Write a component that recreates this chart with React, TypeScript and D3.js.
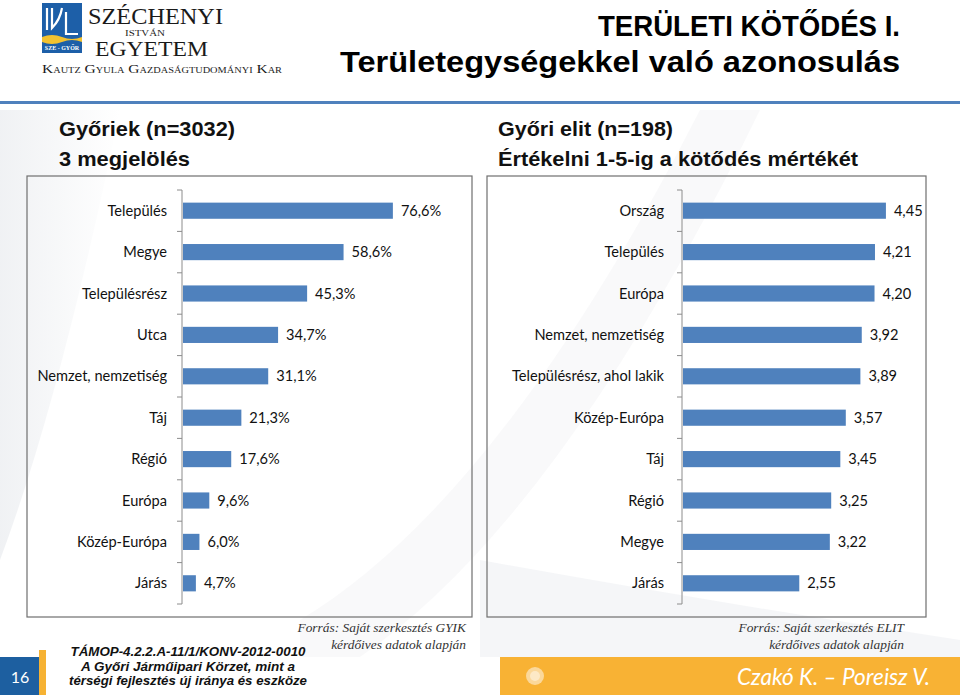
import React from 'react';
import * as d3 from 'd3';

const leftCategories = ['Település', 'Megye', 'Településrész', 'Utca', 'Nemzet, nemzetiség', 'Táj', 'Régió', 'Európa', 'Közép-Európa', 'Járás'];
const leftValues = [76.6, 58.6, 45.3, 34.7, 31.1, 21.3, 17.6, 9.6, 6.0, 4.7];

const rightCategories = ['Ország', 'Település', 'Európa', 'Nemzet, nemzetiség', 'Településrész, ahol lakik', 'Közép-Európa', 'Táj', 'Régió', 'Megye', 'Járás'];
const rightValues = [4.45, 4.21, 4.20, 3.92, 3.89, 3.57, 3.45, 3.25, 3.22, 2.55];

const W = 960;
const H = 695;
const BAR = '#4f81bd';
const LABEL_FONT = 'Lato, "Open Sans", sans-serif';
const HEAD_FONT = '"Liberation Sans", Arial, sans-serif';

type PanelProps = {
  cats: string[];
  vals: number[];
  domainMax: number;
  axisX: number;
  plotRight: number;
  labelGap: number;
  fmt: (v: number) => string;
  box: [number, number, number, number];
};

function BarPanel({ cats, vals, domainMax, axisX, plotRight, labelGap, fmt, box }: PanelProps) {
  const y = d3.scaleBand<string>().domain(cats).range([190, 604]);
  const x = d3.scaleLinear().domain([0, domainMax]).range([axisX + 1, plotRight]);
  const step = y.step();
  const bh = step * 0.39;
  const ticks = d3.range(cats.length + 1).map((i) => 190 + i * step);
  return (
    <g>
      <rect x={box[0]} y={box[1]} width={box[2] - box[0]} height={box[3] - box[1]} fill="none" stroke="#6f6f6f" strokeWidth={1.2} />
      <line x1={axisX} x2={axisX} y1={190} y2={604} stroke="#8c8c8c" strokeWidth={1} />
      {ticks.map((t, i) => (
        <line key={i} x1={axisX - 5} x2={axisX} y1={t} y2={t} stroke="#8c8c8c" strokeWidth={1} />
      ))}
      {cats.map((c, i) => {
        const cy = (y(c) as number) + step / 2;
        return (
          <g key={c}>
            <rect x={x(0)} y={cy - bh / 2} width={x(vals[i]) - x(0)} height={bh} fill={BAR} />
            <text x={axisX - labelGap} y={cy + 5} textAnchor="end" fontFamily={LABEL_FONT} fontSize={14.6} fill="#111">{c}</text>
            <text x={x(vals[i]) + 8} y={cy + 5} fontFamily={LABEL_FONT} fontSize={14.6} fill="#111">{fmt(vals[i])}</text>
          </g>
        );
      })}
    </g>
  );
}

function Logo() {
  return (
    <g>
      <rect x={42} y={3} width={40} height={50} fill="#1d5fa8" />
      <path d="M47 8 L47 30 M52 8 L52 28 Q60 20 62 8 M66 12 L66 34 L78 34" stroke="#fff" strokeWidth={2.2} fill="none" />
      <path d="M42 37 Q52 33 62 37 T82 37 L82 42 Q72 38 62 42 T42 42 Z" fill="#f2c230" />
      <text x={62} y={50} textAnchor="middle" fontFamily="Liberation Serif, serif" fontSize={6} fill="#fff" fontWeight="bold">SZE - GYŐR</text>
      <text x={88} y={23.5} fontFamily="Liberation Serif, serif" fontSize={24} fill="#1a1a1a" textLength={135} lengthAdjust="spacingAndGlyphs">SZÉCHENYI</text>
      <text x={145} y={35.5} textAnchor="middle" fontFamily="Liberation Serif, serif" fontSize={8} fill="#1a1a1a" textLength={40} lengthAdjust="spacingAndGlyphs">ISTVÁN</text>
      <text x={95} y={56} fontFamily="Liberation Serif, serif" fontSize={20.5} fill="#1a1a1a" textLength={113} lengthAdjust="spacingAndGlyphs">EGYETEM</text>
      <text x={42} y={73} fontFamily="Liberation Serif, serif" fontSize={12} fill="#1a1a1a" textLength={240} lengthAdjust="spacingAndGlyphs" style={{ fontVariant: 'small-caps' }}>Kautz Gyula Gazdaságtudományi Kar</text>
    </g>
  );
}

export default function App() {
  const fmtLeft = (v: number) => d3.format('.1f')(v).replace('.', ',') + '%';
  const fmtRight = (v: number) => d3.format('.2f')(v).replace('.', ',');
  return (
    <div style={{ position: 'absolute', left: 0, top: 0 }}>
      <svg width={W} height={H} style={{ display: 'block' }}>
        <defs>
          <linearGradient id="bgL" x1="0" x2="1" y1="0" y2="0">
            <stop offset="0" stopColor="#eceef1" />
            <stop offset="1" stopColor="#ffffff" />
          </linearGradient>
        </defs>
        <rect width={W} height={H} fill="#ffffff" />
        <path d="M0 110 L120 110 Q60 400 0 560 Z" fill="url(#bgL)" opacity={0.8} />
        <path d="M480 560 Q700 600 960 640 L960 657 L480 657 Z" fill="#eef0f3" opacity={0.6} />
        <path d="M300 620 Q500 500 700 110 L760 110 Q560 520 360 657 L300 657 Z" fill="#f6f7f8" opacity={0.7} />

        <Logo />

        <text x={900} y={36} textAnchor="end" fontFamily={HEAD_FONT} fontWeight="bold" fontSize={30} fill="#000" textLength={302} lengthAdjust="spacingAndGlyphs">TERÜLETI KÖTŐDÉS I.</text>
        <text x={900} y={72} textAnchor="end" fontFamily={HEAD_FONT} fontWeight="bold" fontSize={30} fill="#000" textLength={560} lengthAdjust="spacingAndGlyphs">Területegységekkel való azonosulás</text>

        <rect x={0} y={101} width={W} height={3} fill="#4f81bd" />

        <text x={59} y={136} fontFamily={HEAD_FONT} fontWeight="bold" fontSize={20.5} fill="#111" textLength={176} lengthAdjust="spacingAndGlyphs">Győriek (n=3032)</text>
        <text x={59} y={166} fontFamily={HEAD_FONT} fontWeight="bold" fontSize={20.5} fill="#111" textLength={131} lengthAdjust="spacingAndGlyphs">3 megjelölés</text>
        <text x={498} y={136} fontFamily={HEAD_FONT} fontWeight="bold" fontSize={20.5} fill="#111" textLength={175} lengthAdjust="spacingAndGlyphs">Győri elit (n=198)</text>
        <text x={498} y={166} fontFamily={HEAD_FONT} fontWeight="bold" fontSize={20.5} fill="#111" textLength={360} lengthAdjust="spacingAndGlyphs">Értékelni 1-5-ig a kötődés mértékét</text>

        <BarPanel cats={leftCategories} vals={leftValues} domainMax={100} axisX={182} plotRight={457} labelGap={15} fmt={fmtLeft} box={[27, 176, 472, 617]} />
        <BarPanel cats={rightCategories} vals={rightValues} domainMax={5} axisX={682} plotRight={911} labelGap={18} fmt={fmtRight} box={[487, 176, 926, 617]} />

        <text x={466} y={632} textAnchor="end" fontFamily="Liberation Serif, serif" fontStyle="italic" fontSize={13.4} fill="#333">Forrás: Saját szerkesztés GYIK</text>
        <text x={466} y={649} textAnchor="end" fontFamily="Liberation Serif, serif" fontStyle="italic" fontSize={13.4} fill="#333">kérdőives adatok alapján</text>
        <text x={904} y={632} textAnchor="end" fontFamily="Liberation Serif, serif" fontStyle="italic" fontSize={13.4} fill="#333">Forrás: Saját szerkesztés ELIT</text>
        <text x={904} y={649} textAnchor="end" fontFamily="Liberation Serif, serif" fontStyle="italic" fontSize={13.4} fill="#333">kérdőives adatok alapján</text>

        <rect x={0} y={657} width={39} height={38} fill="#1d5fa0" />
        <rect x={39} y={650} width={7} height={45} fill="#f6b233" />
        <text x={20} y={683} textAnchor="middle" fontFamily={LABEL_FONT} fontSize={16} fill="#fff">16</text>

        <text x={188} y={656} textAnchor="middle" fontFamily={HEAD_FONT} fontStyle="italic" fontWeight="bold" fontSize={12.4} fill="#111" textLength={235} lengthAdjust="spacingAndGlyphs">TÁMOP-4.2.2.A-11/1/KONV-2012-0010</text>
        <text x={188} y={670.5} textAnchor="middle" fontFamily={HEAD_FONT} fontStyle="italic" fontWeight="bold" fontSize={12.4} fill="#111" textLength={214} lengthAdjust="spacingAndGlyphs">A Győri Járműipari Körzet, mint a</text>
        <text x={188} y={685} textAnchor="middle" fontFamily={HEAD_FONT} fontStyle="italic" fontWeight="bold" fontSize={12.4} fill="#111" textLength={238} lengthAdjust="spacingAndGlyphs">térségi fejlesztés új iránya és eszköze</text>

        <rect x={500} y={657} width={460} height={38} fill="#f8b234" />
        <circle cx={535} cy={676} r={9} fill="#fbd89a" />
        <circle cx={535} cy={676} r={5} fill="#fde9c6" />
        <text x={930} y={685} textAnchor="end" fontFamily={LABEL_FONT} fontStyle="italic" fontSize={24} fill="#fff" textLength={193} lengthAdjust="spacingAndGlyphs">Czakó K. – Poreisz V.</text>
      </svg>
    </div>
  );
}
